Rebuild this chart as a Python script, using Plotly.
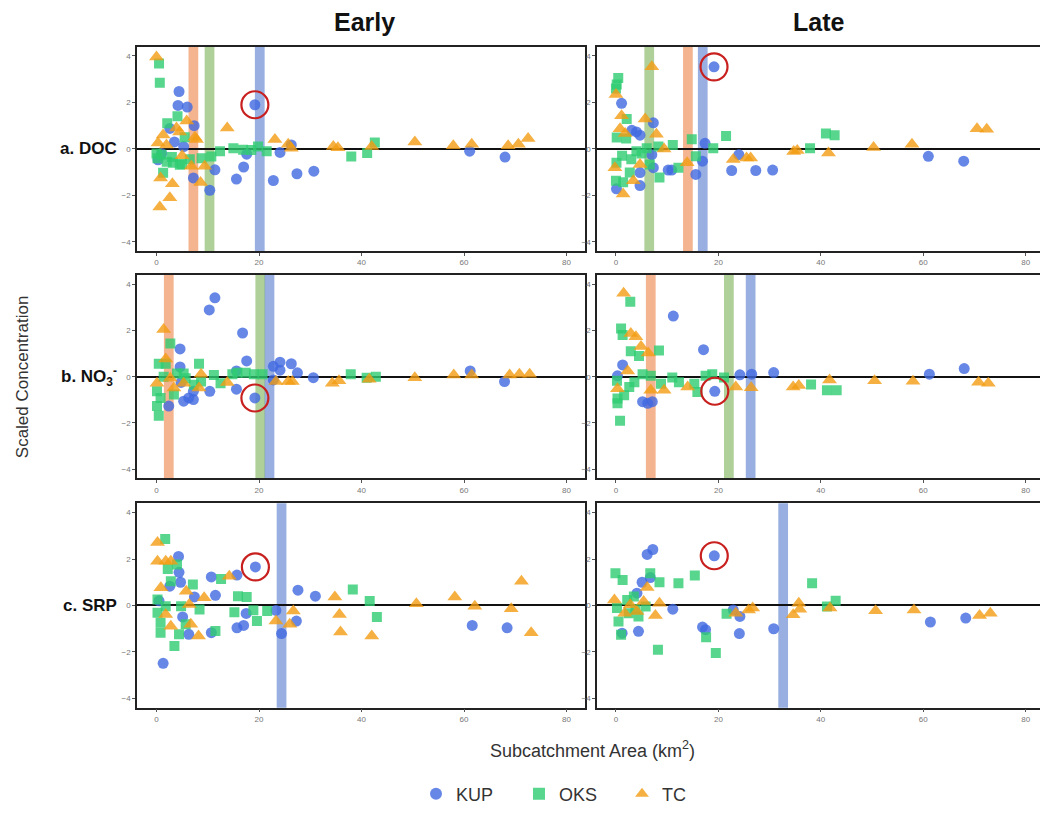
import plotly.graph_objects as go

# ---------------------------------------------------------------------------
# Scaled concentration vs. subcatchment area (km²), by site and sampling period.
# The first KUP point in every panel is the highlighted (circled) subcatchment.
# ---------------------------------------------------------------------------

# a. DOC - Early
doc_early_kup_x = [19.2, 4.4, 4.2, 6.0, 7.35, 2.6, 5.3, 0.3, 1.0, 3.5, 11.4, 10.4, 7.2, 15.6, 17.0, 17.6, 22.8, 24.1, 26.3, 27.4, 30.7, 61.1, 68.0]
doc_early_kup_y = [1.9, 2.47, 1.87, 1.8, 1.0, 0.88, 0.1, -0.47, -0.2, 0.3, -0.9, -1.78, -1.25, -1.3, -0.78, -0.23, -1.36, -0.15, 0.17, -1.07, -0.96, -0.1, -0.35]
doc_early_oks_x = [0.5, 0.65, 2.1, 4.1, 1.3, 4.55, 0.0, 1.0, 2.0, 3.2, 5.0, 6.5, 8.8, 10.7, 12.4, 15.0, 16.9, 18.5, 19.8, 21.5, 38.0, 41.1, 42.6, 3.0, 5.5, 0.2]
doc_early_oks_y = [3.67, 2.85, 1.1, 1.4, -1.03, -0.68, -0.2, -0.25, -0.55, -0.6, -0.65, -0.45, -0.4, -0.33, -0.1, 0.03, -0.04, -0.05, 0.1, -0.1, -0.33, -0.18, 0.28, -0.35, 0.5, -0.4]
doc_early_tc_x = [0.0, 0.65, 2.6, 0.8, 3.1, 1.3, 3.9, 5.9, 7.5, 7.8, 8.6, 6.8, 13.8, 23.1, 25.7, 26.3, 34.5, 35.4, 42.0, 50.4, 57.9, 61.5, 68.6, 70.6, 72.5, 0.3, 1.95, 4.5, 9.4, 5.0]
doc_early_tc_y = [3.95, -2.5, -2.1, -1.25, -1.5, 0.6, 0.9, 1.2, 0.5, 0.4, -1.45, -0.75, 0.9, 0.4, 0.2, 0.03, 0.1, 0.05, 0.1, 0.3, 0.14, 0.2, 0.14, 0.2, 0.45, 0.25, 0.17, 0.73, -0.75, -0.3]

# a. DOC - Late
doc_late_kup_x = [19.15, 1.1, 7.3, 4.0, 3.1, 4.7, 7.0, 7.3, 4.7, 4.7, 0.1, 10.2, 10.9, 15.6, 16.9, 17.4, 22.6, 24.0, 27.3, 30.6, 61.0, 67.9]
doc_late_kup_y = [3.53, 1.96, 1.12, 0.73, 0.8, 0.59, -0.25, -0.81, -1.02, -1.58, -1.72, -0.91, -0.91, -1.1, -0.53, 0.24, -0.93, -0.25, -0.93, -0.91, -0.32, -0.53]
doc_late_oks_x = [0.45, 0.15, 0.0, 2.1, 0.15, 2.0, 0.0, 1.4, 2.7, 0.1, 1.2, 4.0, 6.0, 6.6, 8.3, 8.5, 11.1, 12.2, 14.8, 15.6, 19.0, 21.5, 37.9, 41.0, 42.7, 3.0, 5.0]
doc_late_oks_y = [3.05, 2.77, 2.6, 1.29, 0.49, 0.45, -1.37, -1.44, -1.02, -0.6, -0.3, -0.1, 0.03, -0.67, 0.1, -1.23, 0.17, -0.81, 0.42, -0.32, 0.03, 0.56, 0.03, 0.66, 0.59, -0.45, -0.2]
doc_late_tc_x = [7.0, 0.0, 1.1, 5.7, 0.8, 1.8, 7.9, -0.2, 1.4, 3.4, 9.4, 13.9, 22.9, 25.5, 26.3, 34.7, 35.4, 41.5, 50.3, 57.8, 70.5, 72.4, 4.7]
doc_late_tc_y = [3.53, 2.34, 1.43, 1.29, 0.87, 0.66, 0.63, -0.81, -1.94, -1.37, -0.01, -0.6, -0.46, -0.39, -0.39, -0.11, -0.07, -0.18, 0.06, 0.2, 0.87, 0.84, -0.67]

# b. NO3- - Early
no3_early_kup_x = [19.2, 11.4, 10.3, 16.8, 4.6, 4.6, 17.6, 4.8, 5.3, 7.2, 7.2, 6.3, 10.4, 15.6, 15.6, 22.8, 24.1, 24.1, 26.3, 27.5, 30.6, 22.8, 61.2, 67.9, 2.4]
no3_early_kup_y = [-0.92, 3.41, 2.89, 1.89, 1.2, 0.42, 0.68, -0.25, -1.06, -0.99, -0.63, -0.92, -0.63, -0.54, 0.25, 0.45, 0.63, 0.28, 0.56, 0.17, -0.04, -0.14, 0.25, -0.21, -1.27]
no3_early_oks_x = [2.7, 0.45, 1.8, 8.3, 0.1, 0.1, 0.45, 1.4, 4.0, 5.3, 5.7, 7.3, 8.7, 11.2, 12.5, 14.8, 15.8, 17.4, 19.0, 20.7, 37.9, 41.0, 42.8, 0.8, 3.4]
no3_early_oks_y = [1.44, 0.56, 0.56, 0.56, -0.63, -1.27, -1.69, 0.0, 0.14, 0.14, -0.07, -0.35, -0.21, 0.07, -0.28, 0.11, 0.17, 0.17, 0.11, 0.11, 0.11, -0.04, 0.0, -0.92, -0.77]
no3_early_tc_x = [1.4, 1.8, 0.1, 3.4, 5.3, 8.3, 8.7, 13.8, 23.3, 25.7, 26.5, 34.3, 35.6, 41.5, 50.4, 58.0, 61.5, 68.9, 70.8, 72.8, 2.7]
no3_early_tc_y = [2.04, 0.77, -0.28, -0.49, -0.28, -0.49, 0.11, -0.25, -0.21, -0.21, -0.21, -0.28, -0.17, -0.11, -0.04, 0.07, 0.07, 0.07, 0.11, 0.11, -0.07]

# b. NO3- - Late
no3_late_kup_x = [19.3, 11.2, 17.1, 1.3, 0.3, 5.2, 6.2, 7.1, 24.2, 26.5, 30.8, 61.2, 68.0]
no3_late_kup_y = [-0.63, 2.62, 1.17, 0.51, 0.04, -1.08, -1.15, -1.08, 0.08, 0.11, 0.18, 0.11, 0.35]
no3_late_oks_x = [2.8, 1.0, 1.3, 2.9, 4.5, 8.4, 0.2, 0.3, 0.3, 0.8, 1.6, 3.6, 5.2, 6.8, 8.8, 11.0, 12.3, 15.3, 15.9, 17.5, 18.8, 21.1, 38.1, 41.2, 43.1, 2.6]
no3_late_oks_y = [3.24, 2.08, 1.8, 1.1, 0.89, 1.13, -0.17, -0.94, -1.15, -1.9, -0.8, -0.24, 0.11, 0.04, -0.31, -0.03, -0.24, -0.31, -0.66, 0.04, 0.11, -0.03, -0.34, -0.59, -0.59, -0.45]
no3_late_tc_x = [1.5, 2.9, 3.9, 4.9, 6.3, 2.3, 0.3, 6.8, 9.4, 14.0, 23.4, 26.4, 34.6, 35.7, 41.7, 50.5, 58.0, 70.8, 72.7]
no3_late_tc_y = [3.61, 1.87, 1.73, 1.31, 1.03, 0.25, -0.52, -0.59, -0.59, -0.45, -0.45, -0.48, -0.45, -0.38, -0.14, -0.17, -0.2, -0.24, -0.28]

# c. SRP - Early
srp_early_kup_x = [19.3, 4.3, 4.4, 4.7, 2.6, 7.4, 10.7, 11.5, 15.7, 17.5, 15.7, 17.0, 10.7, 6.3, 5.1, 1.3, 27.6, 31.0, 23.3, 24.4, 27.3, 61.6, 68.4, 0.5]
srp_early_kup_y = [1.66, 2.11, 1.43, 1.0, 0.83, 0.37, 1.23, 0.44, 1.31, -0.34, -0.96, -0.86, -1.17, -1.24, -0.49, -2.49, 0.66, 0.4, -0.21, -1.21, -0.67, -0.86, -0.96, 0.2]
srp_early_oks_x = [1.7, 2.2, 4.0, 2.8, 7.1, 12.6, 15.9, 17.6, 0.2, 0.2, 0.8, 0.8, 3.5, 4.4, 5.7, 8.4, 15.2, 18.9, 19.6, 21.6, 11.5, 38.3, 41.6, 43.0, 1.8, 4.8]
srp_early_oks_y = [2.86, 1.57, 1.76, 1.04, 0.9, 1.14, 0.4, 0.37, 0.26, -0.31, -0.74, -1.17, -1.74, -1.24, -0.81, -0.17, -0.29, -0.2, -0.67, -0.24, -1.1, 0.69, 0.19, -0.49, -0.03, -0.03]
srp_early_tc_x = [0.2, 0.2, 1.8, 2.8, 0.85, 5.8, 9.3, 14.2, 6.4, 1.8, 2.8, 6.7, 8.2, 23.3, 26.0, 26.7, 34.8, 35.7, 35.9, 42.0, 50.7, 58.2, 62.1, 69.2, 71.2, 73.1]
srp_early_tc_y = [2.71, 1.9, 1.9, 1.9, 0.76, 0.61, 0.33, 1.26, 0.04, -0.39, -0.89, -0.81, -1.31, -0.67, -0.81, -0.24, 0.37, -0.39, -1.14, -1.31, 0.07, 0.37, -0.03, -0.14, 1.04, -1.17]

# c. SRP - Late
srp_late_kup_x = [19.2, 6.1, 7.2, 5.1, 4.1, 6.7, 11.1, 1.2, 4.4, 16.9, 17.5, 22.9, 24.2, 24.1, 30.8, 61.4, 68.3]
srp_late_kup_y = [2.14, 2.2, 2.41, 1.0, 0.53, 1.2, -0.16, -1.19, -1.11, -0.93, -1.04, -0.19, -0.47, -1.21, -1.0, -0.71, -0.54]
srp_late_oks_x = [-0.1, 1.3, 6.7, 8.5, 12.2, 15.4, 0.2, 0.5, 1.0, 2.2, 3.5, 4.4, 2.5, 5.8, 8.2, 17.6, 19.5, 21.6, 38.3, 41.2, 42.9, 3.8]
srp_late_oks_y = [1.39, 1.1, 1.39, 1.0, 0.96, 1.29, -0.11, -0.69, -1.26, 0.24, 0.39, -0.47, -0.33, -0.04, -1.9, -1.37, -2.04, -0.36, 0.96, -0.04, 0.2, -0.15]
srp_late_tc_x = [6.1, -0.3, 1.7, 5.4, 7.7, 8.5, 23.4, 25.9, 26.7, 34.6, 35.7, 35.9, 41.8, 50.7, 58.2, 71.0, 73.1, 2.8, 4.1]
srp_late_tc_y = [0.77, 0.24, -0.33, 0.17, -0.43, 0.1, -0.33, -0.19, -0.11, -0.4, 0.1, -0.16, -0.11, -0.23, -0.19, -0.43, -0.33, 0.03, -0.26]

# Breakpoint bands (area in km²) and the site each belongs to
doc_early_band_x = [7.2, 10.35, 20.15]
doc_early_band_site = ["TC", "OKS", "KUP"]
doc_late_band_x = [6.5, 14.05, 16.95]
doc_late_band_site = ["OKS", "TC", "KUP"]
no3_early_band_x = [2.4, 20.25, 22.05]
no3_early_band_site = ["TC", "OKS", "KUP"]
no3_late_band_x = [6.8, 22.05, 26.3]
no3_late_band_site = ["TC", "OKS", "KUP"]
srp_early_band_x = [24.4]
srp_early_band_site = ["KUP"]
srp_late_band_x = [32.65]
srp_late_band_site = ["KUP"]

sites = ["KUP", "OKS", "TC"]
row_labels = ["a. DOC", "b. NO<sub>3</sub><sup>-</sup>", "c. SRP"]
col_titles = ["Early", "Late"]
x_ticks = [0, 20, 40, 60, 80]
y_ticks = [-4, -2, 0, 2, 4]

# ---------------------------------------------------------------------------
# Styling
# ---------------------------------------------------------------------------
FONT = "Liberation Sans, Arial, sans-serif"
site_color = {"KUP": "#4169E1", "OKS": "#2ECC71", "TC": "#F39C12"}
site_symbol = {"KUP": "circle", "OKS": "square", "TC": "triangle-up"}
site_size = {"KUP": 11, "OKS": 10, "TC": 13}
band_color = {"KUP": "rgba(70,110,200,0.55)",
              "OKS": "rgba(110,170,70,0.55)",
              "TC": "rgba(238,130,70,0.6)"}
BAND_W = 1.9

col_domains = [[137 / 1040, 585 / 1040], [597 / 1040, 1.0]]
col_ranges = [[-3.8, 83.6], [-3.7, 82.8]]
row_px = [(47, 253), (277, 482), (507, 713)]
row_domains = [[1 - b / 813, 1 - t / 813] for t, b in row_px]
Y_RANGE = [-4.4, 4.4]

panels = [
    (0, 0, (doc_early_kup_x, doc_early_kup_y), (doc_early_oks_x, doc_early_oks_y), (doc_early_tc_x, doc_early_tc_y), doc_early_band_x, doc_early_band_site),
    (0, 1, (doc_late_kup_x, doc_late_kup_y), (doc_late_oks_x, doc_late_oks_y), (doc_late_tc_x, doc_late_tc_y), doc_late_band_x, doc_late_band_site),
    (1, 0, (no3_early_kup_x, no3_early_kup_y), (no3_early_oks_x, no3_early_oks_y), (no3_early_tc_x, no3_early_tc_y), no3_early_band_x, no3_early_band_site),
    (1, 1, (no3_late_kup_x, no3_late_kup_y), (no3_late_oks_x, no3_late_oks_y), (no3_late_tc_x, no3_late_tc_y), no3_late_band_x, no3_late_band_site),
    (2, 0, (srp_early_kup_x, srp_early_kup_y), (srp_early_oks_x, srp_early_oks_y), (srp_early_tc_x, srp_early_tc_y), srp_early_band_x, srp_early_band_site),
    (2, 1, (srp_late_kup_x, srp_late_kup_y), (srp_late_oks_x, srp_late_oks_y), (srp_late_tc_x, srp_late_tc_y), srp_late_band_x, srp_late_band_site),
]

fig = go.Figure()
shapes = []
layout_axes = {}

for i, (r, c, kup, oks, tc, band_x, band_site) in enumerate(panels, start=1):
    xa = "x" if i == 1 else f"x{i}"
    ya = "y" if i == 1 else f"y{i}"
    xkey = "xaxis" if i == 1 else f"xaxis{i}"
    ykey = "yaxis" if i == 1 else f"yaxis{i}"

    # breakpoint bands behind the points
    for bx, site in zip(band_x, band_site):
        shapes.append(dict(type="rect", xref=xa, yref=f"{ya} domain",
                           x0=bx - BAND_W / 2, x1=bx + BAND_W / 2, y0=0, y1=1,
                           fillcolor=band_color[site], line=dict(width=0), layer="below"))

    for site, (xs, ys) in zip(sites, [kup, oks, tc]):
        fig.add_trace(go.Scatter(
            x=xs, y=ys, mode="markers", xaxis=xa, yaxis=ya, showlegend=False,
            name=site, hoverinfo="x+y+name",
            marker=dict(symbol=site_symbol[site], size=site_size[site],
                        color=site_color[site], opacity=0.8, line=dict(width=0)),
        ))

    # highlighted subcatchment (first KUP point)
    fig.add_trace(go.Scatter(
        x=[kup[0][0]], y=[kup[1][0]], mode="markers", xaxis=xa, yaxis=ya,
        showlegend=False, hoverinfo="skip",
        marker=dict(symbol="circle-open", size=27, color="#C8201E",
                    line=dict(width=2.2, color="#C8201E")),
    ))

    layout_axes[xkey] = dict(
        domain=col_domains[c], range=col_ranges[c], anchor=ya,
        tickvals=x_ticks, ticks="outside", ticklen=3, tickcolor="#555",
        tickfont=dict(size=8, color="#777", family=FONT),
        showline=True, linecolor="#222", linewidth=1.5, mirror=True,
        showgrid=False, zeroline=False,
    )
    layout_axes[ykey] = dict(
        domain=row_domains[r], range=Y_RANGE, anchor=xa,
        tickvals=y_ticks, ticks="outside", ticklen=3, tickcolor="#555",
        tickfont=dict(size=8, color="#777", family=FONT),
        showline=True, linecolor="#222", linewidth=1.5, mirror=(c == 0),
        showgrid=False, zeroline=True, zerolinecolor="#111", zerolinewidth=2,
    )

# legend entries
for site in sites:
    fig.add_trace(go.Scatter(
        x=[None], y=[None], mode="markers", name=site, showlegend=True,
        marker=dict(symbol=site_symbol[site], size=8, color=site_color[site], opacity=0.8),
    ))

annotations = []
for c, title in enumerate(col_titles):
    annotations.append(dict(text=f"<b>{title}</b>", xref="paper", yref="paper",
                            x=sum(col_domains[c]) / 2 + 3 / 1040 * (c == 0), y=1 - 22 / 813,
                            showarrow=False, xanchor="center", yanchor="middle",
                            font=dict(size=25, color="#111", family=FONT)))
for r, label in enumerate(row_labels):
    ymid = 1 - (row_px[r][0] + row_px[r][1]) / 2 / 813
    annotations.append(dict(text=f"<b>{label}</b>", xref="paper", yref="paper",
                            x=119 / 1040, y=ymid, showarrow=False,
                            xanchor="right", yanchor="middle",
                            font=dict(size=17, color="#111", family=FONT)))
annotations.append(dict(text="Scaled Concentration", xref="paper", yref="paper",
                        x=22 / 1040, y=1 - 380 / 813, textangle=-90,
                        showarrow=False, xanchor="center", yanchor="middle",
                        font=dict(size=17, color="#333", family=FONT)))
annotations.append(dict(text="Subcatchment Area (km<sup>2</sup>)", xref="paper", yref="paper",
                        x=592 / 1040, y=1 - 755 / 813,
                        showarrow=False, xanchor="center", yanchor="middle",
                        font=dict(size=18, color="#333", family=FONT)))

fig.update_layout(
    width=1040, height=813,
    margin=dict(l=0, r=0, t=0, b=0),
    paper_bgcolor="white", plot_bgcolor="white",
    font=dict(family=FONT),
    shapes=shapes, annotations=annotations,
    legend=dict(orientation="h", x=416 / 1040, y=1 - 800 / 813, xanchor="left", yanchor="middle",
                font=dict(size=18, color="#333", family=FONT),
                entrywidth=58, entrywidthmode="pixels",
                itemsizing="constant", bgcolor="rgba(0,0,0,0)"),
    **layout_axes,
)

fig.write_html("out.html")
